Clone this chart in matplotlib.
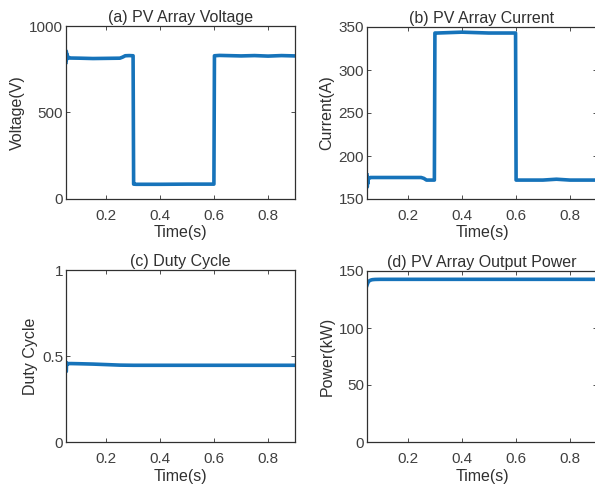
import matplotlib
matplotlib.use("Agg")
import matplotlib.pyplot as plt

plt.rcParams['font.family'] = ['Liberation Sans', 'DejaVu Sans']

BLUE = '#1673ba'
DARK = '#303030'

# (a) PV array voltage
t_v = [0.050, 0.051, 0.052, 0.053, 0.055, 0.058, 0.062, 0.10, 0.15, 0.20, 0.25, 0.26, 0.27, 0.285, 0.299,
       0.301, 0.31, 0.40, 0.50, 0.599, 0.601, 0.62, 0.70, 0.75, 0.80, 0.85, 0.90]
v = [790, 855, 805, 840, 812, 822, 815, 814, 812, 813, 814, 820, 828, 829, 828,
     86, 85, 85, 86, 86, 828, 830, 827, 829, 826, 829, 827]

# (b) PV array current
t_i = [0.050, 0.051, 0.052, 0.053, 0.055, 0.058, 0.062, 0.10, 0.15, 0.20, 0.25, 0.26, 0.27, 0.285, 0.299,
       0.301, 0.31, 0.40, 0.50, 0.599, 0.601, 0.62, 0.70, 0.75, 0.80, 0.85, 0.90]
cur = [178, 164, 176, 168, 175, 174, 175, 175, 175, 175, 175, 174, 172, 172, 172,
       343, 343, 344, 343, 343, 172, 172, 172, 173, 172, 172, 172]

# (c) duty cycle
t_d = [0.050, 0.051, 0.052, 0.054, 0.058, 0.07, 0.10, 0.15, 0.20, 0.25, 0.30, 0.40, 0.50, 0.60, 0.70, 0.80, 0.90]
duty = [0.46, 0.41, 0.455, 0.45, 0.456, 0.456, 0.455, 0.453, 0.450, 0.447, 0.446, 0.446, 0.446, 0.446, 0.446, 0.446, 0.446]

# (d) PV array output power
t_p = [0.050, 0.053, 0.056, 0.060, 0.065, 0.070, 0.080, 0.10, 0.30, 0.50, 0.60, 0.70, 0.90]
power = [137.5, 139.5, 140.8, 141.6, 142.1, 142.4, 142.6, 142.7, 142.7, 142.7, 142.7, 142.7, 142.7]

panels = [
    dict(t=t_v, y=v, title='(a) PV Array Voltage', ylabel='Voltage(V)', ylim=(0, 1000), yticks=[0, 500, 1000]),
    dict(t=t_i, y=cur, title='(b) PV Array Current', ylabel='Current(A)', ylim=(150, 350), yticks=[150, 200, 250, 300, 350]),
    dict(t=t_d, y=duty, title='(c) Duty Cycle', ylabel='Duty Cycle', ylim=(0, 1), yticks=[0, 0.5, 1]),
    dict(t=t_p, y=power, title='(d) PV Array Output Power', ylabel='Power(kW)', ylim=(0, 150), yticks=[0, 50, 100, 150]),
]
ytick_labels = [['0', '500', '1000'], ['150', '200', '250', '300', '350'], ['0', '0.5', '1'], ['0', '50', '100', '150']]
xticks = [0.2, 0.4, 0.6, 0.8]
xtick_labels = ['0.2', '0.4', '0.6', '0.8']

W, H = 595, 491
fig = plt.figure(figsize=(W / 100, H / 100), dpi=100)
boxes = [(66, 26, 229, 173), (367, 27, 230, 172), (66, 270, 229, 172), (367, 271, 230, 171)]

for p, (x0, y0, w, h), yl in zip(panels, boxes, ytick_labels):
    ax = fig.add_axes([x0 / W, 1 - (y0 + h) / H, w / W, h / H])
    ax.plot(p['t'], p['y'], color=BLUE, lw=2.6)
    ax.set_xlim(0.05, 0.9)
    ax.set_ylim(*p['ylim'])
    ax.set_xticks(xticks)
    ax.set_xticklabels(xtick_labels)
    ax.set_yticks(p['yticks'])
    ax.set_yticklabels(yl)
    ax.tick_params(direction='in', length=3, width=0.6, colors=DARK, labelsize=11,
                   top=True, right=True, labelcolor='#404040')
    ax.tick_params(axis='x', pad=7)
    ax.tick_params(axis='y', pad=2)
    for s in ax.spines.values():
        s.set_color(DARK)
        s.set_linewidth(0.9)
    ax.set_title(p['title'], fontsize=11.5, color=DARK, pad=3)
    ax.set_xlabel('Time(s)', fontsize=11.5, color=DARK, labelpad=2)
    ax.set_ylabel(p['ylabel'], fontsize=11.5, color=DARK, labelpad=3)

fig.savefig('out.png', dpi=100)
